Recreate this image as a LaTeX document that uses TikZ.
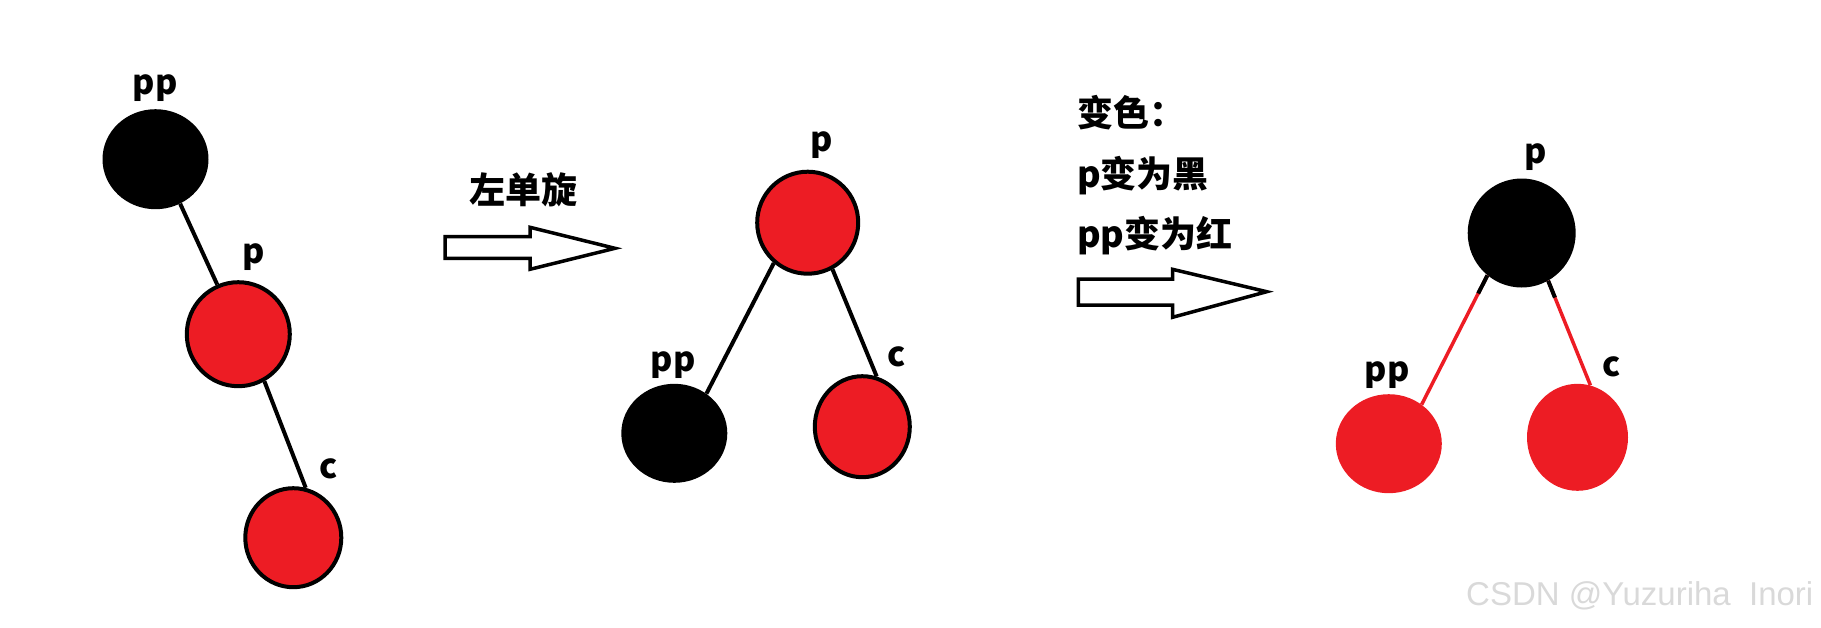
\documentclass[tikz,border=0pt]{standalone}
\usepackage{fontspec}
\setmainfont{Noto Sans CJK SC}
\newfontfamily\wmfont{Liberation Sans}
\usepackage{xcolor}
\usepackage{tikz}
\usetikzlibrary{shapes.geometric,calc}
\definecolor{nodeRed}{HTML}{ED1C24}
\definecolor{wmGray}{HTML}{D9D9D9}

\begin{document}
\begin{tikzpicture}[x=1pt,y=-1pt,
    blknode/.style={ellipse, fill=black, inner sep=0pt},
    rednode/.style={ellipse, fill=nodeRed, draw=black, line width=4pt, inner sep=0pt},
    redflat/.style={ellipse, fill=nodeRed, inner sep=0pt},
    tag/.style={font=\fontsize{34}{40}\selectfont\bfseries, inner sep=0pt},
    note/.style={font=\fontsize{36}{42}\selectfont\bfseries, inner sep=0pt},
    link/.style={line width=4pt},
    redlink/.style={line width=3.5pt, draw=nodeRed},
    fatarrow/.style={draw=black, fill=white, line width=3.5pt, miter limit=10}]
  \useasboundingbox (0,0) rectangle (1821,627);

  % before rotation
  \node[blknode, minimum width=106pt, minimum height=100pt] (pp1) at (155.5,159.2) {};
  \node[rednode, minimum width=103pt, minimum height=104pt] (p1) at (238.3,334.2) {};
  \node[rednode, minimum width=96pt, minimum height=99pt] (c1) at (293.3,537.7) {};
  \draw[link] (pp1.-61) -- (p1.113);
  \draw[link] (p1.-61) -- (c1.76);
  \node[tag] (lpp1) at (155,88.3) {pp};
  \node[tag] (lp1) at (253.3,256.7) {p};
  \node[tag] (lc1) at (328.3,469.3) {c};

  % rotation arrow
  \node[note] (rot) at (523.3,190) {左单旋};
  \draw[fatarrow] (445,236.7) -- (530,236.7) -- (530,227.3) -- (615,248.3)
    -- (530,269.3) -- (530,258.3) -- (445,258.3) -- cycle;

  % after rotation
  \node[rednode, minimum width=101pt, minimum height=102pt] (p2) at (807.7,222.7) {};
  \node[blknode, minimum width=106pt, minimum height=99pt] (pp2) at (674.3,433.3) {};
  \node[rednode, minimum width=95pt, minimum height=101pt] (c2) at (862.3,426.7) {};
  \draw[link] (p2.-130) -- (pp2.51);
  \draw[link] (p2.-62) -- (c2.74);
  \node[tag] (lp2) at (821.7,145) {p};
  \node[tag] (lpp2) at (673.3,365) {pp};
  \node[tag] (lc2) at (896.7,356.7) {c};

  % recolouring
  \node[note, anchor=west] (rc1) at (1077,113) {变色：};
  \node[note, anchor=west] (rc2) at (1077,176) {p变为黑};
  \node[note, anchor=west] (rc3) at (1077,236) {pp变为红};
  \draw[fatarrow] (1078.3,279) -- (1172.5,279) -- (1172.5,269.3) -- (1266.7,291.7)
    -- (1172.5,317.3) -- (1172.5,305) -- (1078.3,305) -- cycle;

  \node[blknode, minimum width=108pt, minimum height=109pt] (p3) at (1521.7,233) {};
  \node[redflat, minimum width=106pt, minimum height=99pt] (pp3) at (1388.8,443.7) {};
  \node[redflat, minimum width=101pt, minimum height=107pt] (c3) at (1577.5,437.3) {};
  \draw[redlink] (p3.-129) -- (pp3.50);
  \draw[link] (p3.-129) -- ($(p3.-129)!0.14!(pp3.50)$);
  \draw[redlink] (p3.-61) -- (c3.76);
  \draw[link] (p3.-61) -- ($(p3.-61)!0.16!(c3.76)$);
  \node[tag] (lp3) at (1536,156.7) {p};
  \node[tag] (lpp3) at (1387.3,375) {pp};
  \node[tag] (lc3) at (1612,367) {c};

  \node[anchor=west, inner sep=0pt, text=wmGray, font=\wmfont\fontsize{33}{39}\selectfont] (wm) at (1466,596) {CSDN @Yuzuriha~~Inori};
\end{tikzpicture}
\end{document}
